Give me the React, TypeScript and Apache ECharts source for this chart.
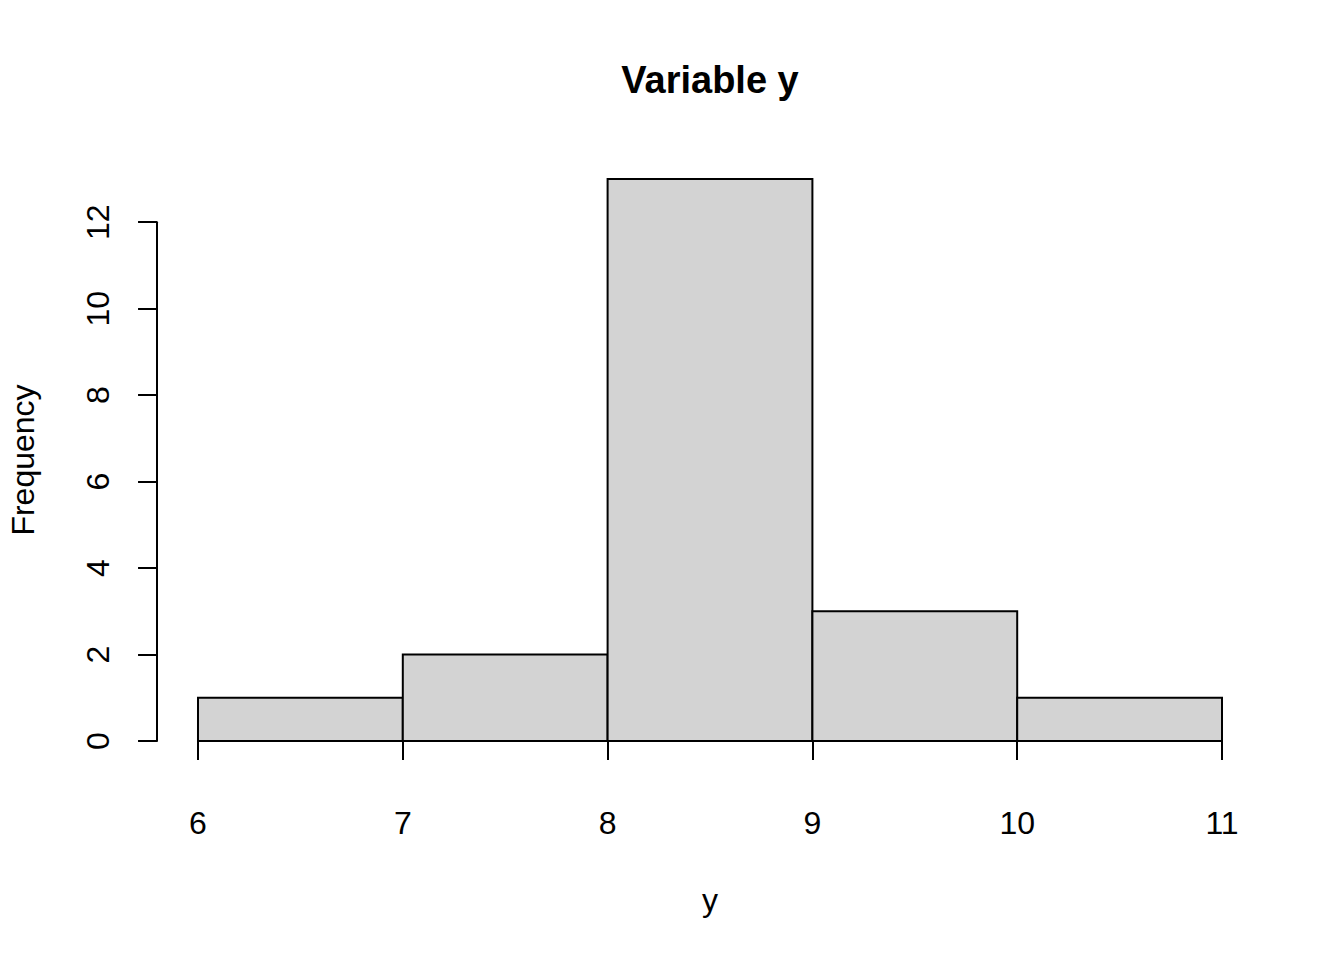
import React, { useEffect, useRef } from "react";
import * as echarts from "echarts";

const binStarts = [6, 7, 8, 9, 10];
const binEnds = [7, 8, 9, 10, 11];
const counts = [1, 2, 13, 3, 1];
const xTicks = [6, 7, 8, 9, 10, 11];
const yTicks = [0, 2, 4, 6, 8, 10, 12];

const FONT = "'Liberation Sans', Arial, Helvetica, sans-serif";

export default function App() {
  const ref = useRef<HTMLDivElement>(null);
  useEffect(() => {
    document.body.style.margin = "0";
    if (!ref.current) return;
    const chart = echarts.init(ref.current, null, { renderer: "svg" });
    const unitX = 204.8;
    const unitY = 43.23;
    const x0px = 198;
    const y0px = 741;
    const data = binStarts.map((s, i) => [s, binEnds[i], counts[i]]);
    const axisText = { fontSize: 32, color: "#000", fontFamily: FONT };
    const option: any = {
      animation: false,
      backgroundColor: "#fff",
      grid: [
        { left: x0px - 0.2 * unitX, width: 5.4 * unitX, top: 179 - 0.52 * unitY, height: 14.04 * unitY },
        { left: x0px, width: 5 * unitX, top: 179 - 0.52 * unitY, height: 14.04 * unitY },
        { left: x0px - 0.2 * unitX, width: 5.4 * unitX, top: y0px - 12 * unitY, height: 12 * unitY },
      ],
      xAxis: [
        { gridIndex: 0, type: "value", min: 5.8, max: 11.2, show: false },
        {
          gridIndex: 1,
          type: "value",
          min: xTicks[0],
          max: xTicks[xTicks.length - 1],
          interval: 1,
          position: "bottom",
          axisLine: { show: true, lineStyle: { color: "#000", width: 2 } },
          axisTick: { show: true, length: 19, lineStyle: { color: "#000", width: 2 } },
          axisLabel: { ...axisText, margin: 44, showMinLabel: true, showMaxLabel: true },
          splitLine: { show: false },
        },
        { gridIndex: 2, type: "value", min: 5.8, max: 11.2, show: false },
      ],
      yAxis: [
        { gridIndex: 0, type: "value", min: -0.52, max: 13.52, show: false },
        { gridIndex: 1, type: "value", min: -0.52, max: 13.52, show: false },
        {
          gridIndex: 2,
          type: "value",
          min: yTicks[0],
          max: yTicks[yTicks.length - 1],
          interval: 2,
          position: "left",
          axisLine: { show: true, lineStyle: { color: "#000", width: 2 } },
          axisTick: { show: true, length: 19, lineStyle: { color: "#000", width: 2 } },
          axisLabel: { ...axisText, rotate: 90, margin: 43, showMinLabel: true, showMaxLabel: true },
          splitLine: { show: false },
        },
      ],
      series: [
        {
          type: "custom",
          xAxisIndex: 0,
          yAxisIndex: 0,
          data,
          encode: { x: [0, 1], y: 2 },
          renderItem: (params: any, api: any) => {
            const a = api.coord([api.value(0), api.value(2)]);
            const b = api.coord([api.value(1), 0]);
            return {
              type: "rect",
              shape: { x: a[0], y: a[1], width: b[0] - a[0], height: b[1] - a[1] },
              style: { fill: "#d3d3d3", stroke: "#000", lineWidth: 2 },
            };
          },
        },
      ],
      graphic: [
        {
          type: "text",
          x: 710,
          y: 80,
          style: {
            text: "Variable y",
            font: `bold 38px ${FONT}`,
            fill: "#000",
            textAlign: "center",
            textVerticalAlign: "middle",
          },
        },
        {
          type: "text",
          x: 710,
          y: 900,
          style: {
            text: "y",
            font: `32px ${FONT}`,
            fill: "#000",
            textAlign: "center",
            textVerticalAlign: "middle",
          },
        },
        {
          type: "text",
          x: 23,
          y: 460,
          rotation: Math.PI / 2,
          style: {
            text: "Frequency",
            font: `32px ${FONT}`,
            fill: "#000",
            textAlign: "center",
            textVerticalAlign: "middle",
          },
        },
      ],
    };
    chart.setOption(option);
    return () => chart.dispose();
  }, []);
  return <div ref={ref} style={{ width: 1344, height: 960 }} />;
}
